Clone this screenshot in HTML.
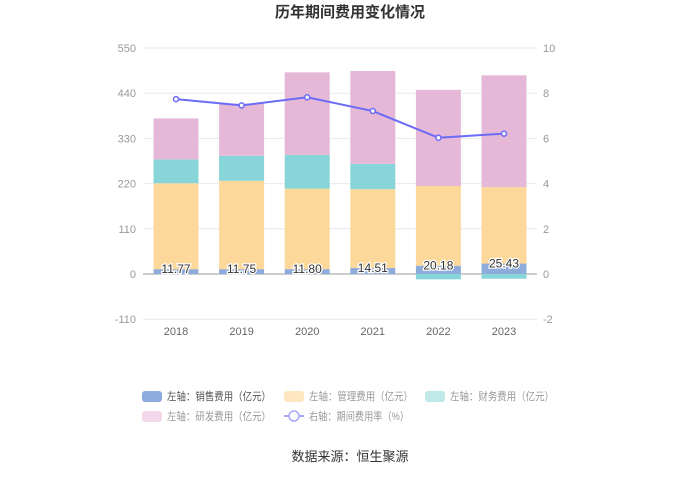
<!DOCTYPE html>
<html><head><meta charset="utf-8"><style>
body{margin:0;background:#fff;width:700px;height:473px;overflow:hidden;font-family:"Liberation Sans","Noto Sans CJK SC",sans-serif}
svg text{font-family:"Liberation Sans","Noto Sans CJK SC",sans-serif}
</style></head><body>
<svg id="c" width="700" height="473">
<text x="350" y="17" text-anchor="middle" font-size="15" font-weight="bold" fill="#333">历年期间费用变化情况</text>
<g id="grid"></g><g id="bars"></g><g id="line"></g><g id="labels"></g>
<g font-size="11">
<g><rect x="142" y="391" width="20" height="11" rx="3" fill="#8eacdb"/><text x="167" y="400" fill="#555" textLength="104" lengthAdjust="spacingAndGlyphs">左轴：销售费用（亿元）</text></g>
<g><rect x="284" y="391" width="20" height="11" rx="3" fill="#fde6c0"/><text x="309" y="400" fill="#999" textLength="104" lengthAdjust="spacingAndGlyphs">左轴：管理费用（亿元）</text></g>
<g><rect x="425" y="391" width="20" height="11" rx="3" fill="#bfe8e8"/><text x="450" y="400" fill="#999" textLength="104" lengthAdjust="spacingAndGlyphs">左轴：财务费用（亿元）</text></g>
<g><rect x="142" y="411" width="20" height="11" rx="3" fill="#f2d8ea"/><text x="167" y="420" fill="#999" textLength="104" lengthAdjust="spacingAndGlyphs">左轴：研发费用（亿元）</text></g>
<g><line x1="284" y1="416" x2="304" y2="416" stroke="#a8a8f8" stroke-width="2"/><circle cx="294" cy="416" r="5" fill="#fff" stroke="#a8a8f8" stroke-width="1.5"/><text x="309" y="420" fill="#999" textLength="100" lengthAdjust="spacingAndGlyphs">右轴：期间费用率（%）</text></g>
</g>
<text x="350" y="461" text-anchor="middle" font-size="13" fill="#333">数据来源：恒生聚源</text>
</svg>
<script>
const years=["2018","2019","2020","2021","2022","2023"];
const sales=[11.77,11.75,11.80,14.51,20.18,25.43];
const mgmt=[209,215,196,192,194,186];
const finance=[58,61,82,61.5,-13,-11.5];
const rd=[100,127,201,226,234,272];
const rate=[7.74,7.46,7.82,7.21,6.03,6.21];
const leftTicks=[-110,0,110,220,330,440,550];
const rightTicks=[-2,0,2,4,6,8,10];
const NS="http://www.w3.org/2000/svg";
const y0=274,pxL=226/550,pxR=22.6;
const yL=v=>y0-v*pxL, yR=v=>y0-v*pxR;
const xC=i=>176+i*65.6;
function mk(p,t,a){const e=document.createElementNS(NS,t);for(const k in a)e.setAttribute(k,a[k]);document.getElementById(p).appendChild(e);return e;}
leftTicks.forEach((t,i)=>{
 const g=mk('grid','line',{x1:143,x2:537,y1:yL(t),y2:yL(t),stroke:t===0?'#999':'#e6e9f0'});
 
 
 const a=mk('grid','text',{x:136,y:yL(t)+4,'text-anchor':'end','font-size':11,fill:'#999'});a.textContent=t;
 
 
 const b=mk('grid','text',{x:543,y:yR(rightTicks[i])+4,'font-size':11,fill:'#999'});b.textContent=rightTicks[i];
 
 
});
years.forEach((y,i)=>{
 const x=xC(i),w=45;
 const t=mk('grid','text',{x:x,y:335,'text-anchor':'middle','font-size':11,fill:'#666'});t.textContent=y;
 
 
 let pos=0,neg=0;
 [[sales,'#8eacdb','bar-sales'],[mgmt,'#fdd89b','bar-management'],[finance,'#87d5d8','bar-finance'],[rd,'#e6b8d8','bar-rd']].forEach(([arr,c,n])=>{
  const v=arr[i];let top,bot;
  if(v>=0){bot=pos;pos+=v;top=pos;}else{top=neg;neg+=v;bot=neg;}
  const r=mk('bars','rect',{x:x-w/2,y:yL(top),width:w,height:yL(bot)-yL(top),fill:c});
  
  
 });
 const l=mk('labels','text',{x:x,y:yL(sales[i])+4,'text-anchor':'middle','font-size':12,fill:'#333',stroke:'#fff','stroke-width':2.5,'paint-order':'stroke'});l.textContent=sales[i].toFixed(2);
 
 
});
const pl=mk('line','polyline',{points:rate.map((v,i)=>xC(i)+','+yR(v)).join(' '),fill:'none',stroke:'#6b6bf5','stroke-width':2});


rate.forEach((v,i)=>{const c=mk('line','circle',{cx:xC(i),cy:yR(v),r:2.5,fill:'#fff',stroke:'#6b6bf5','stroke-width':1.5});
 
 });
</script>
</body></html>
